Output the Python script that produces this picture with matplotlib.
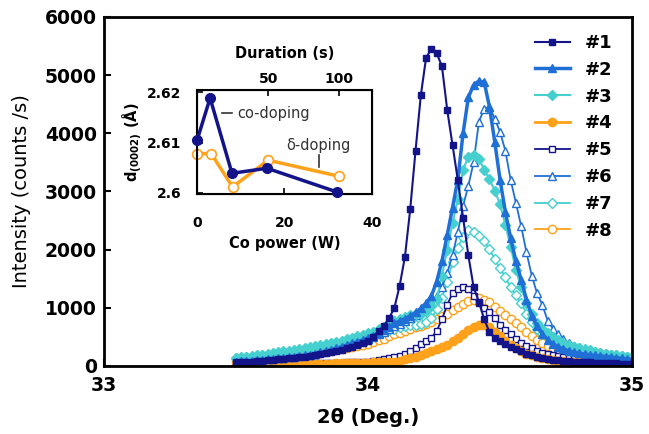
import numpy as np
import matplotlib
matplotlib.use("Agg")
import matplotlib.pyplot as plt

plt.rcParams['font.family'] = ['DejaVu Sans']
plt.rcParams['mathtext.fontset'] = 'dejavusans'

# ---- main XRD data: 2theta grid 33.50 .. 35.00, step 0.02 ----
two_theta = np.round(np.arange(33.50, 35.001, 0.02), 2)

s1 = [60, 65, 70, 75, 80, 90, 95, 100, 110, 120,
      130, 140, 150, 160, 175, 190, 205, 220, 240, 260,
      280, 305, 330, 360, 390, 430, 500, 600, 690, 820,
      1000, 1380, 1880, 2700, 3700, 4650, 5300, 5450, 5380, 5150,
      4400, 3800, 3200, 2550, 1900, 1350, 1100, 800, 580, 480,
      430, 380, 330, 290, 250, 210, 180, 160, 140, 120,
      100, 95, 90, 80, 75, 70, 65, 60, 55, 50,
      50, 45, 45, 40, 40, 35]
s2 = [75, 80, 85, 90, 95, 105, 110, 120, 130, 140,
      150, 160, 170, 185, 195, 210, 230, 250, 275, 300,
      330, 355, 385, 415, 445, 480, 520, 560, 610, 670,
      730, 770, 810, 860, 920, 990, 1080, 1200, 1450, 1800,
      2250, 2720, 3200, 4000, 4620, 4830, 4900, 4880, 4450, 3850,
      3200, 2650, 2200, 1800, 1480, 1140, 860, 680, 550, 450,
      370, 330, 290, 255, 235, 215, 200, 190, 180, 170,
      160, 150, 140, 130, 120, 110]
s3 = [140, 150, 160, 170, 180, 190, 205, 220, 235, 250,
      260, 275, 290, 305, 320, 340, 355, 375, 395, 410,
      430, 455, 480, 505, 530, 560, 590, 630, 670, 720,
      780, 810, 840, 870, 890, 900, 950, 1030, 1150, 1550,
      2000, 2450, 2870, 3370, 3600, 3630, 3560, 3370, 3210, 3010,
      2780, 2430, 2050, 1650, 1350, 1080, 890, 740, 640, 560,
      500, 440, 400, 360, 330, 305, 285, 265, 245, 225,
      205, 190, 180, 170, 160, 150]
s4 = [20, 20, 22, 22, 24, 25, 26, 27, 28, 29,
      30, 31, 32, 33, 34, 35, 36, 38, 40, 42,
      44, 46, 48, 50, 52, 55, 58, 62, 66, 70,
      75, 90, 110, 130, 160, 190, 220, 250, 285, 320,
      360, 420, 480, 550, 620, 670, 710, 710, 660, 590,
      510, 430, 360, 300, 250, 210, 180, 155, 135, 115,
      100, 90, 80, 72, 65, 58, 52, 48, 44, 40,
      38, 36, 34, 32, 31, 30]
s5 = [30, 30, 32, 32, 34, 35, 36, 37, 38, 39,
      40, 41, 42, 43, 44, 45, 47, 49, 51, 53,
      55, 58, 62, 66, 70, 75, 85, 95, 110, 130,
      150, 175, 210, 250, 310, 370, 420, 480, 600, 800,
      1050, 1250, 1330, 1360, 1330, 1200, 1080, 1000, 930, 820,
      700, 610, 540, 460, 400, 350, 310, 260, 225, 200,
      180, 165, 150, 135, 120, 105, 100, 95, 90, 85,
      80, 75, 70, 65, 62, 60]
s6 = [80, 85, 90, 95, 100, 110, 115, 125, 135, 140,
      150, 160, 170, 180, 195, 210, 230, 250, 270, 295,
      320, 345, 370, 400, 430, 460, 500, 540, 580, 630,
      680, 720, 770, 820, 880, 950, 1020, 1100, 1200, 1350,
      1600, 1900, 2300, 2750, 3100, 3500, 4200, 4420, 4450, 4250,
      4020, 3700, 3200, 2800, 2400, 1950, 1550, 1250, 1050, 780,
      640, 540, 460, 400, 350, 310, 285, 260, 240, 220,
      200, 185, 170, 160, 145, 130]
s7 = [130, 140, 150, 160, 170, 180, 195, 205, 220, 230,
      245, 260, 275, 290, 305, 320, 340, 355, 375, 390,
      410, 430, 450, 470, 495, 520, 545, 570, 595, 620,
      640, 660, 680, 695, 705, 720, 760, 820, 970, 1170,
      1450, 1780, 2030, 2220, 2330, 2310, 2240, 2150, 2010, 1830,
      1680, 1530, 1350, 1210, 1080, 900, 760, 630, 550, 500,
      460, 420, 390, 360, 330, 300, 270, 250, 235, 220,
      205, 195, 185, 170, 160, 150]
s8 = [80, 85, 90, 95, 105, 110, 120, 130, 140, 145,
      150, 160, 170, 185, 195, 210, 225, 240, 255, 275,
      290, 305, 325, 340, 360, 380, 410, 440, 470, 505,
      540, 570, 600, 630, 660, 690, 720, 760, 800, 850,
      900, 960, 1020, 1070, 1110, 1140, 1160, 1140, 1090, 1010,
      940, 880, 800, 730, 660, 590, 520, 450, 400, 350,
      310, 280, 250, 225, 205, 190, 180, 170, 160, 150,
      140, 130, 125, 115, 110, 100]

labels = ['#1', '#2', '#3', '#4', '#5', '#6', '#7', '#8']
series = [s1, s2, s3, s4, s5, s6, s7, s8]

# ---- inset data ----
co_power = [0, 3, 8, 16, 32]
d_codoping = [2.6104, 2.6188, 2.6039, 2.6049, 2.6002]
duration = [0, 10, 25, 50, 100]
d_deltadoping = [2.6078, 2.6078, 2.6012, 2.6065, 2.6033]

NAVY = '#14148a'
BLUE = '#1f6fd6'
TURQ = '#45cfcf'
ORNG = '#ffa11a'

styles = [
    dict(color=NAVY, marker='s', mfc=NAVY, ms=5, lw=1.5),
    dict(color=BLUE, marker='^', mfc=BLUE, ms=6, lw=2.5),
    dict(color=TURQ, marker='D', mfc=TURQ, ms=5, lw=1.5),
    dict(color=ORNG, marker='o', mfc=ORNG, ms=6, lw=2.0),
    dict(color=NAVY, marker='s', mfc='white', ms=5, lw=1.3),
    dict(color=BLUE, marker='^', mfc='white', ms=6, lw=1.3),
    dict(color=TURQ, marker='D', mfc='white', ms=5, lw=1.3),
    dict(color=ORNG, marker='o', mfc='white', ms=6, lw=1.3),
]

fig = plt.figure(figsize=(6.49, 4.34), dpi=100)
ax = fig.add_axes([0.160, 0.157, 0.814, 0.804])

draw_order = [7, 6, 5, 4, 3, 2, 1, 0]
handles = [None] * 8
for k in draw_order:
    st = styles[k]
    h, = ax.plot(two_theta, series[k], color=st['color'], marker=st['marker'],
                 mfc=st['mfc'], mec=st['color'], ms=st['ms'], lw=st['lw'],
                 mew=1.0, label=labels[k])
    handles[k] = h

ax.set_xlim(33, 35)
ax.set_ylim(0, 6000)
ax.set_xticks([33, 34, 35])
ax.set_yticks(range(0, 6001, 1000))
ax.tick_params(direction='in', length=5, width=1.5, labelsize=13.5)
ax.tick_params(axis='x', pad=7)
ax.tick_params(axis='y', pad=5)
for lab in ax.get_xticklabels() + ax.get_yticklabels():
    lab.set_fontweight('bold')
for sp in ax.spines.values():
    sp.set_linewidth(2)
ax.set_xlabel('2θ (Deg.)', fontsize=14, fontweight='bold', labelpad=10)
ax.set_ylabel('Intensity (counts /s)', fontsize=14, labelpad=10)

leg = ax.legend(handles=handles, labels=labels, loc='upper left',
                bbox_to_anchor=(0.824, 0.922), bbox_transform=fig.transFigure,
                frameon=False, handlelength=1.95, labelspacing=0.49,
                handletextpad=0.8, borderpad=0, borderaxespad=0,
                prop=dict(size=13, weight='bold'))

# ---- inset ----
ins = fig.add_axes([0.3035, 0.553, 0.2697, 0.2396])
ins.plot(co_power, d_codoping, color=NAVY, lw=2.5, marker='o', ms=7,
         mfc=NAVY, mec=NAVY, clip_on=False, zorder=3)
ins.set_xlim(0, 40)
ins.set_ylim(2.5998, 2.6204)
ins.set_xticks([0, 20, 40])
ins.set_yticks([2.6, 2.61, 2.62])
ins.set_yticklabels(['2.6', '2.61', '2.62'])
ins.tick_params(direction='in', length=4, width=1.2, labelsize=10)
ins.tick_params(axis='x', pad=16)
ins.tick_params(axis='y', pad=11)
for lab in ins.get_xticklabels() + ins.get_yticklabels():
    lab.set_fontweight('bold')
ins.set_xlabel('Co power (W)', fontsize=10.5, fontweight='bold', labelpad=4)
ins.set_ylabel(r'$\mathbf{d_{(0002)}}$ (Å)', fontsize=10.5, fontweight='bold', labelpad=2)
for sp in ins.spines.values():
    sp.set_linewidth(1.5)

top = ins.twiny()
top.plot(duration, d_deltadoping, color=ORNG, lw=2.5, marker='o', ms=7,
         mfc='white', mec=ORNG, mew=1.2, clip_on=False, zorder=2)
top.set_xlim(0, 123)
top.set_xticks([50, 100])
top.tick_params(direction='in', length=4, width=1.2, labelsize=10, pad=3)
for lab in top.get_xticklabels():
    lab.set_fontweight('bold')
top.set_xlabel('Duration (s)', fontsize=10.5, fontweight='bold', labelpad=10)
ins.set_zorder(top.get_zorder() + 1)
ins.patch.set_visible(False)

ins.text(9.1, 2.6158, 'co-doping', fontsize=10.5, color='#333333', va='center')
ins.plot([5.7, 8.0], [2.6158, 2.6158], color='#333333', lw=1.2)
top.text(62.5, 2.6095, 'δ-doping', fontsize=10.5, color='#333333', va='center')
top.plot([86, 86], [2.6075, 2.6052], color='#333333', lw=1.2)

fig.savefig('out.png', dpi=100)
